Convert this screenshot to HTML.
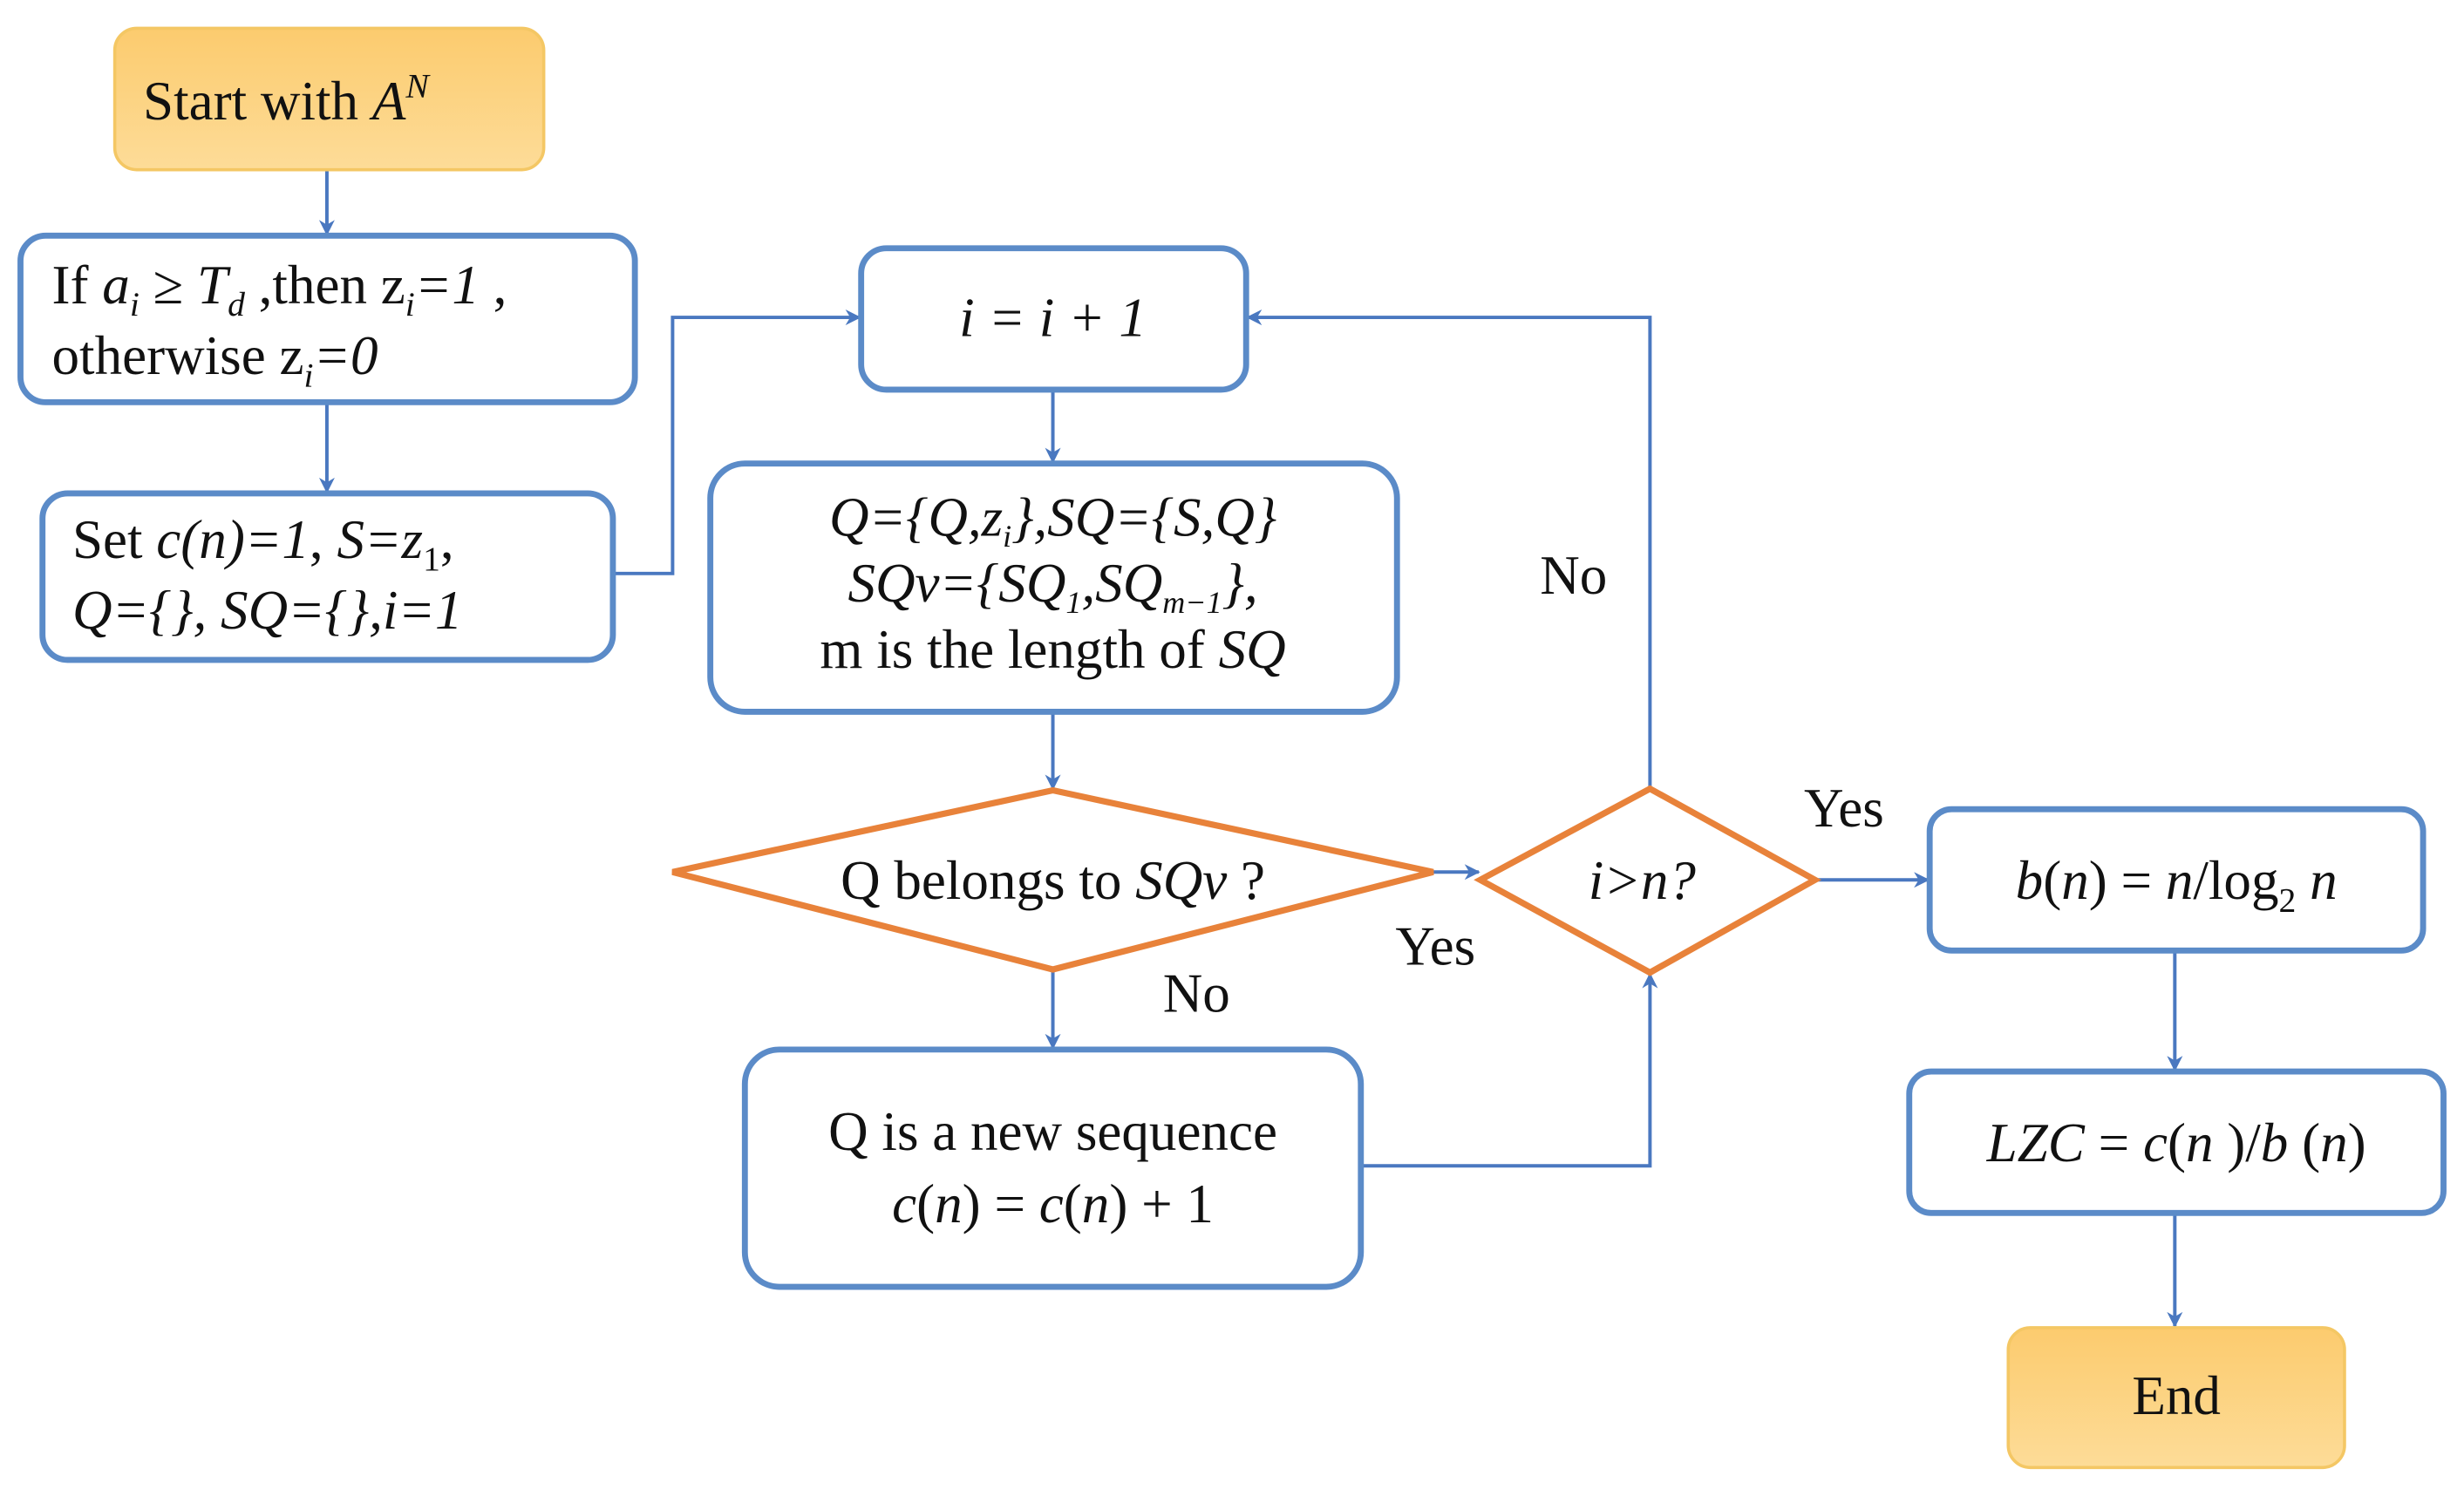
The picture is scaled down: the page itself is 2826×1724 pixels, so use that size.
<!DOCTYPE html>
<html><head><meta charset="utf-8"><style>
html,body{margin:0;padding:0;background:#fff}
svg{display:block}
text{font-family:"Liberation Serif",serif;font-size:35px;fill:#111}
.i{font-style:italic}
</style></head><body>
<svg width="2826" height="1724" viewBox="0 0 1568 956.6" xmlns="http://www.w3.org/2000/svg">
<defs>
<marker id="a" markerWidth="10" markerHeight="10" refX="9" refY="5" orient="auto" markerUnits="userSpaceOnUse"><path d="M0,0 L10,5 L0,10 L3,5 z" fill="#4A78C0"/></marker>
<linearGradient id="g" x1="0" y1="0" x2="0" y2="1"><stop offset="0" stop-color="#FCCB6E"/><stop offset="1" stop-color="#FDDC98"/></linearGradient>
</defs>
<g fill="none" stroke="#4A78C0" stroke-width="2.2" marker-end="url(#a)">
<path d="M208,108 V149"/>
<path d="M208,256 V313"/>
<path d="M390,365 H428 V202 H547"/>
<path d="M670,248 V294"/>
<path d="M670,453 V502"/>
<path d="M670,617 V667"/>
<path d="M912,555 H941"/>
<path d="M866,742 H1050 V620"/>
<path d="M1050,502 V202 H794"/>
<path d="M1155,560 H1227"/>
<path d="M1384,605 V681"/>
<path d="M1384,772 V844"/>
</g>
<g stroke="#5B8BC8" stroke-width="3.8" fill="#fff">
<rect x="13" y="150" width="391" height="106" rx="16"/>
<rect x="27" y="314" width="363" height="106" rx="16"/>
<rect x="548" y="158" width="245" height="90" rx="16"/>
<rect x="452" y="295" width="437" height="158" rx="22"/>
<rect x="474" y="668" width="392" height="151" rx="22"/>
<rect x="1228" y="515" width="314" height="90" rx="14"/>
<rect x="1215" y="682" width="340" height="90" rx="14"/>
</g>
<g stroke="#F4C764" stroke-width="2" fill="url(#g)">
<rect x="73" y="18" width="273" height="90" rx="14"/>
<rect x="1278" y="845" width="214" height="89" rx="14"/>
</g>
<g stroke="#E8823A" stroke-width="4" fill="#fff">
<polygon points="428,555 670,503 912,555 670,617"/>
<polygon points="942,560 1050,502 1155,560 1050,619"/>
</g>
<text x="91" y="76">Start with <tspan class="i">A</tspan><tspan class="i" font-size="22" dy="-14">N</tspan></text>
<text x="33" y="193">If <tspan class="i">a</tspan><tspan class="i" font-size="22" dy="8">i</tspan><tspan dy="-8"> ≥ </tspan><tspan class="i">T</tspan><tspan class="i" font-size="22" dy="8">d</tspan><tspan dy="-8"> ,then z</tspan><tspan class="i" font-size="22" dy="8">i</tspan><tspan class="i" dy="-8">=1</tspan> ,</text>
<text x="33" y="238">otherwise z<tspan class="i" font-size="22" dy="8">i</tspan><tspan class="i" dy="-8">=0</tspan></text>
<text x="46" y="355">Set <tspan class="i">c(n)=1</tspan>,   <tspan class="i">S=z</tspan><tspan font-size="22" dy="8">1</tspan><tspan dy="-8">,</tspan></text>
<text x="46" y="400" class="i">Q={}, SQ={},i=1</text>
<text x="670" y="214" text-anchor="middle" class="i">i = i + 1</text>
<text x="670" y="341" text-anchor="middle" class="i" font-size="29">Q={Q,z<tspan font-size="20" dy="7">i</tspan><tspan dy="-7">},SQ={S,Q}</tspan></text>
<text x="670" y="383" text-anchor="middle" class="i" font-size="29">SQv={SQ<tspan font-size="20" dy="7">1</tspan><tspan dy="-7">,SQ</tspan><tspan font-size="20" dy="7">m−1</tspan><tspan dy="-7">},</tspan></text>
<text x="670" y="425" text-anchor="middle" font-size="30">m is the length of <tspan class="i">SQ</tspan></text>
<text x="670" y="572" text-anchor="middle">Q belongs to <tspan class="i">SQv</tspan> ?</text>
<text x="1045" y="572" text-anchor="middle" class="i">i&gt;n?</text>
<text x="670" y="732" text-anchor="middle">Q is a new sequence</text>
<text x="670" y="778" text-anchor="middle"><tspan class="i">c</tspan>(<tspan class="i">n</tspan>) = <tspan class="i">c</tspan>(<tspan class="i">n</tspan>) + 1</text>
<text x="1385" y="572" text-anchor="middle"><tspan class="i">b</tspan>(<tspan class="i">n</tspan>) = <tspan class="i">n</tspan>/log<tspan font-size="22" dy="8">2</tspan><tspan dy="-8" class="i"> n</tspan></text>
<text x="1385" y="739" text-anchor="middle"><tspan class="i">LZC</tspan> = <tspan class="i">c</tspan>(<tspan class="i">n</tspan> )/<tspan class="i">b</tspan> (<tspan class="i">n</tspan>)</text>
<text x="1385" y="900" text-anchor="middle">End</text>
<text x="980" y="378">No</text>
<text x="740" y="644">No</text>
<text x="888" y="614">Yes</text>
<text x="1148" y="526">Yes</text>
</svg>
</body></html>
